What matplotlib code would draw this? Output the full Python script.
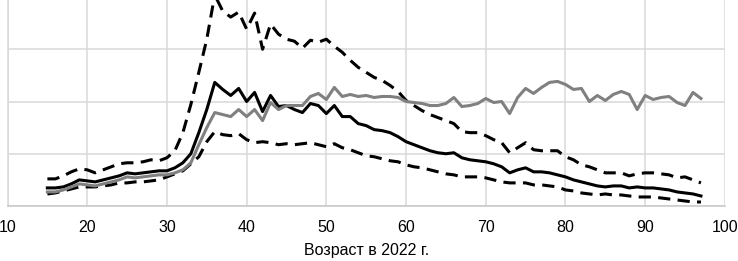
"""
Возрастной профиль: среднее, доверительный интервал и сравнительный ряд.
"""

import matplotlib
matplotlib.use("Agg")
import matplotlib.pyplot as plt
from matplotlib.ticker import MultipleLocator

plt.rcParams["font.family"] = ["Liberation Sans", "DejaVu Sans"]

# Возраст в 2022 г.
ages = list(range(15, 98))

# Основной ряд (сплошная чёрная)
mean_vals = [
    18, 18, 19, 22, 26, 25, 24, 26, 28, 30, 33, 32, 33, 34, 35, 35, 38, 43, 52, 73,
    96, 123, 116, 110, 117, 104, 113, 94, 110, 99, 100, 96, 93, 102, 100, 92, 100, 89, 89, 82,
    80, 76, 75, 73, 69, 64, 61, 58, 55, 53, 52, 53, 48, 46, 45, 44, 42, 39, 33, 36,
    38, 34, 34, 33, 31, 29, 26, 24, 22, 20, 19, 20, 20, 18, 19, 18, 18, 17, 16, 14,
    13, 12, 10,
]

# Сравнительный ряд (сплошная серая)
ref_vals = [
    14, 14, 16, 19, 22, 21, 20, 22, 24, 26, 29, 28, 29, 30, 31, 31, 33, 36, 43, 61,
    78, 93, 91, 89, 96, 89, 96, 85, 103, 96, 100, 100, 100, 109, 112, 106, 118, 109, 111, 109,
    110, 108, 109, 109, 108, 104, 103, 102, 100, 100, 102, 108, 99, 100, 102, 107, 103, 104, 92, 108,
    117, 112, 118, 123, 124, 121, 116, 117, 104, 110, 105, 111, 114, 111, 96, 110, 106, 108, 109, 103,
    100, 113, 107,
]

# Верхняя граница (пунктир)
upper_vals = [
    27, 27, 30, 34, 37, 36, 33, 36, 39, 42, 43, 43, 44, 46, 45, 48, 55, 73, 101, 133,
    166, 210, 194, 188, 193, 176, 192, 156, 181, 171, 166, 164, 157, 165, 163, 166, 159, 153, 145, 138,
    133, 128, 125, 120, 114, 105, 100, 95, 91, 88, 85, 82, 74, 73, 73, 70, 66, 63, 53, 58,
    63, 56, 55, 55, 55, 49, 46, 41, 39, 36, 33, 33, 33, 30, 32, 33, 33, 32, 31, 28,
    29, 26, 23,
]

# Нижняя граница (пунктир)
lower_vals = [
    12, 13, 15, 17, 19, 19, 19, 20, 21, 23, 23, 24, 24, 25, 26, 29, 32, 35, 42, 49,
    64, 74, 71, 70, 72, 66, 63, 64, 63, 61, 62, 61, 62, 63, 61, 59, 62, 58, 56, 53,
    50, 49, 47, 45, 44, 41, 39, 38, 36, 34, 32, 31, 29, 29, 29, 28, 26, 24, 23, 23,
    23, 21, 21, 20, 19, 16, 15, 13, 12, 11, 12, 11, 11, 10, 9, 9, 9, 8, 7, 6,
    5, 4, 4,
]

x_ticks = [10, 20, 30, 40, 50, 60, 70, 80, 90, 100]
x_label = "Возраст в 2022 г."

GRID = "#d9d9d9"


def main():
    fig = plt.figure(figsize=(7.38, 2.61), dpi=100)
    ax = fig.add_axes([0.0102, 0.2107, 0.972, 0.8008])

    dash = dict(color="black", linewidth=2.2, linestyle=(0, (4.0, 2.4)),
                dash_capstyle="butt")
    ax.plot(ages, upper_vals, **dash, zorder=3)
    ax.plot(ages, lower_vals, **dash, zorder=3)
    ax.plot(ages, mean_vals, color="black", linewidth=2.2, zorder=4)
    ax.plot(ages, ref_vals, color="#808080", linewidth=2.2, zorder=5)

    ax.set_xlim(10, 100)
    ax.set_ylim(0, 208)
    ax.set_xticks(x_ticks)
    ax.yaxis.set_major_locator(MultipleLocator(52))
    ax.set_yticklabels([])
    ax.tick_params(axis="both", length=0)
    ax.tick_params(axis="x", pad=10, labelsize=11.5)
    ax.grid(True, color=GRID, linewidth=1.1)
    ax.set_axisbelow(True)

    for side in ("top", "right"):
        ax.spines[side].set_visible(False)
    ax.spines["left"].set_color(GRID)
    ax.spines["left"].set_linewidth(1.1)
    ax.spines["bottom"].set_color("#c8c8c8")
    ax.spines["bottom"].set_linewidth(1.1)

    ax.set_xlabel(x_label, fontsize=11.5, labelpad=6)

    fig.savefig("out.png", dpi=100)
    plt.close(fig)


if __name__ == "__main__":
    main()
